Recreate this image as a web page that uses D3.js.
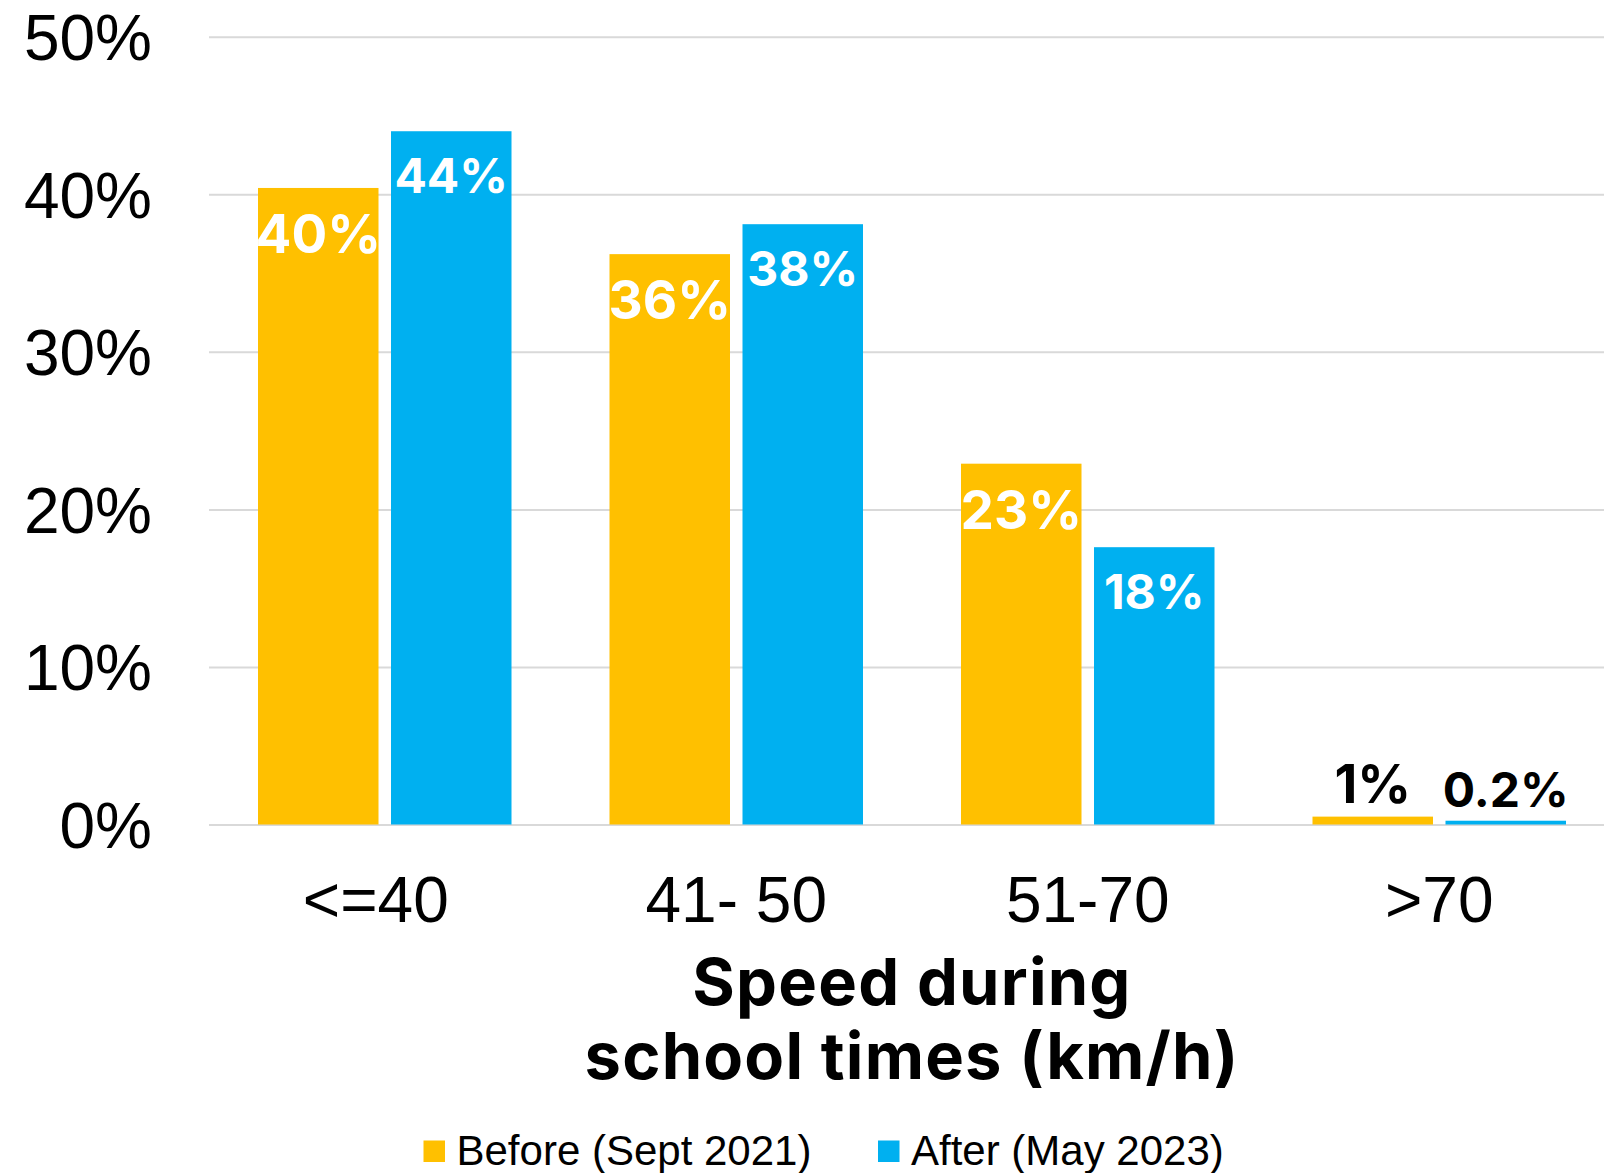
<!DOCTYPE html>
<html>
<head>
<meta charset="utf-8">
<script src="https://cdn.jsdelivr.net/npm/d3@7"></script>
<style>
  html, body { margin: 0; padding: 0; background: #fff; }
  svg { display: block; }
</style>
</head>
<body>
<svg id="chart" width="1604" height="1173"></svg>
<script>
const categories = ["<=40", "41- 50", "51-70", ">70"];
const seriesNames = ["Before (Sept 2021)", "After (May 2023)"];
const beforeValues = [40.4, 36.2, 22.9, 0.5];
const afterValues = [44.0, 38.1, 17.6, 0.24];
const beforeLabels = ["40%", "36%", "23%", "1%"];
const afterLabels = ["44%", "38%", "18%", "0.2%"];
const yTicks = [0, 10, 20, 30, 40, 50];
const colors = ["#FFC000", "#00B0F0"];
const titleLines = ["Speed during", "school times (km/h)"];

const W = 1604, H = 1173;
const svg = d3.select("#chart");

const plotLeft = 209, plotRight = 1615;
const x = d3.scaleBand().domain(categories).range([plotLeft, plotRight])
  .paddingInner(0.2788).paddingOuter(0.1394);
const x1 = d3.scaleBand().domain([0, 1]).range([0, x.bandwidth()]).paddingInner(0.094);
const y = d3.scaleLinear().domain([0, 50]).range([824.5, 36.7]);

// Y axis with gridlines
const yAxis = d3.axisLeft(y).tickValues(yTicks).tickFormat(d => d + "%")
  .tickSize(-(W - plotLeft)).tickPadding(57);
const gy = svg.append("g").attr("transform", `translate(${plotLeft},0)`).call(yAxis);
gy.select(".domain").remove();
gy.selectAll(".tick line").attr("stroke", "#D9D9D9").attr("stroke-width", 2);
gy.selectAll(".tick text")
  .attr("font-family", "'Liberation Sans', Arial, sans-serif")
  .attr("font-size", 64).attr("fill", "#000").attr("dy", "0.36em");

// bars
const rows = categories.map((c, i) => ({
  cat: c,
  vals: [
    { s: 0, v: beforeValues[i], label: beforeLabels[i] },
    { s: 1, v: afterValues[i], label: afterLabels[i] }
  ]
}));

const groups = svg.append("g").selectAll("g").data(rows).join("g")
  .attr("transform", d => `translate(${x(d.cat)},0)`);

groups.selectAll("rect").data(d => d.vals).join("rect")
  .attr("x", d => x1(d.s))
  .attr("width", x1.bandwidth())
  .attr("y", d => y(d.v))
  .attr("height", d => y(0) - y(d.v))
  .attr("fill", d => colors[d.s]);

const labelFont = "Inter, 'Open Sans', sans-serif";
const fsz = [53, 48];
groups.selectAll("text.lbl").data(d => d.vals).join("text")
  .attr("class", "lbl")
  .attr("x", d => x1(d.s) + x1.bandwidth() / 2)
  .attr("y", d => d.v > 5 ? y(d.v) + 26.5 + fsz[d.s] * 0.727 : y(d.v) - 14)
  .attr("text-anchor", "middle")
  .attr("font-family", labelFont)
  .attr("font-weight", 700)
  .attr("font-size", d => fsz[d.s])
  .attr("fill", d => d.v > 5 ? "#fff" : "#000")
  .text(d => d.label);

// X axis labels
const xAxis = d3.axisBottom(x).tickSize(0).tickPadding(0);
const gx = svg.append("g").attr("transform", `translate(0,${y(0)})`).call(xAxis);
gx.select(".domain").remove();
gx.selectAll(".tick text")
  .attr("font-family", "'Liberation Sans', Arial, sans-serif")
  .attr("font-size", 64).attr("fill", "#000")
  .attr("y", 97.5).attr("dy", 0)
  .attr("dx", d => d === "<=40" ? -9 : 0);

// Axis title
const cx = (plotLeft + plotRight) / 2;
svg.append("g").selectAll("text").data(titleLines).join("text")
  .attr("x", cx)
  .attr("y", (d, i) => 1005 + i * 74)
  .attr("text-anchor", "middle")
  .attr("font-family", labelFont)
  .attr("font-weight", 700)
  .attr("font-size", 65)
  .attr("letter-spacing", 1.2)
  .attr("fill", "#000")
  .text(d => d);

// Legend
const legendX = [423.5, 878];
const lg = svg.append("g").selectAll("g").data(seriesNames).join("g")
  .attr("transform", (d, i) => `translate(${legendX[i]},0)`);
lg.append("rect").attr("x", 0).attr("y", 1140.5).attr("width", 21.5).attr("height", 21.5)
  .attr("fill", (d, i) => colors[i]);
lg.append("text").attr("x", 33).attr("y", 1165)
  .attr("font-family", "'Liberation Sans', Arial, sans-serif")
  .attr("font-size", 42).attr("fill", "#000")
  .text(d => d);
</script>
</body>
</html>
